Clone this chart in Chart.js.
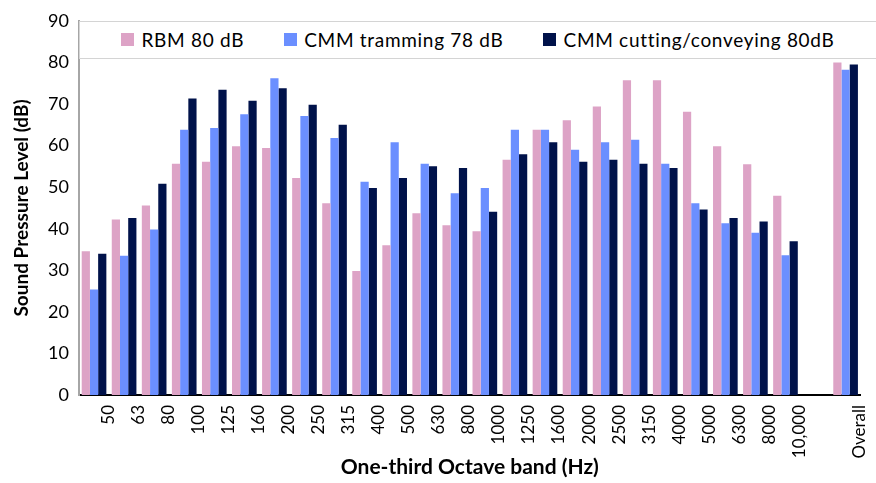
<!DOCTYPE html>
<html>
<head>
<meta charset="utf-8">
<script src="https://cdn.jsdelivr.net/npm/chart.js@4.4.1/dist/chart.umd.min.js"></script>
<style>
  html, body { margin: 0; padding: 0; background: #fff; }
  #wrap { position: relative; width: 876px; height: 483px; overflow: hidden; }
  #legend {
    position: absolute; box-sizing: border-box; background: #fff;
    border: 1px solid #d4d4d4; border-right: none;
    display: flex; justify-content: center; align-items: center; gap: 40px;
    font-family: Lato, sans-serif; font-size: 19px; letter-spacing: 0.7px; color: #000;
  }
  #legend .item { display: flex; align-items: center; white-space: nowrap; }
  #legend .sw { width: 13px; height: 13px; margin-right: 7px; }
</style>
</head>
<body>
<div id="wrap">
  <canvas id="c" width="876" height="483"></canvas>
  <div id="legend"></div>
</div>
<script>
// ---- data ----
const bands = ['50','63','80','100','125','160','200','250','315','400','500','630','800','1000','1250','1600','2000','2500','3150','4000','5000','6300','8000','10,000','','Overall'];
const rbm80 = [34.6, 42.2, 45.6, 55.6, 56.1, 59.8, 59.4, 52.2, 46.1, 29.8, 36.0, 43.7, 40.8, 39.4, 56.6, 63.8, 66.1, 69.4, 75.7, 75.7, 68.1, 59.8, 55.5, 47.9, null, 80.0];
const cmmTramming78 = [25.4, 33.5, 39.8, 63.8, 64.2, 67.5, 76.2, 67.1, 61.8, 51.3, 60.8, 55.6, 48.5, 49.8, 63.8, 63.8, 59.0, 60.8, 61.4, 55.6, 46.1, 41.3, 39.0, 33.6, null, 78.2];
const cmmCutting80 = [34.0, 42.6, 50.8, 71.3, 73.4, 70.8, 73.8, 69.8, 65.0, 49.8, 52.2, 55.0, 54.6, 44.1, 57.9, 60.8, 56.1, 56.6, 55.6, 54.6, 44.6, 42.6, 41.7, 37.0, null, 79.5];
const seriesNames = ['RBM 80 dB', 'CMM tramming 78 dB', 'CMM cutting/conveying 80dB'];
const yTicks = [0, 10, 20, 30, 40, 50, 60, 70, 80, 90];
const xTitle = 'One-third Octave band (Hz)';
const yTitle = 'Sound Pressure Level (dB)';

const colors = ['#DDA3C6', '#6B8FFF', '#00124A'];

const htmlLegend = {
  id: 'htmlLegend',
  afterUpdate(chart) {
    const el = document.getElementById('legend');
    const a = chart.chartArea;
    el.style.left = a.left + 'px';
    el.style.top = a.top + 'px';
    el.style.width = (876 - a.left) + 'px';
    el.style.height = '38px';
    el.innerHTML = '';
    chart.data.datasets.forEach(ds => {
      const it = document.createElement('div'); it.className = 'item';
      const sw = document.createElement('span'); sw.className = 'sw'; sw.style.background = ds.backgroundColor;
      const tx = document.createElement('span'); tx.textContent = ds.label;
      it.appendChild(sw); it.appendChild(tx); el.appendChild(it);
    });
  }
};

const lastLabelFit = {
  id: 'lastLabelFit',
  beforeDraw(chart) {
    const sx = chart.scales.x;
    const items = sx.getLabelItems();
    const last = items[items.length - 1];
    if (last && last.options && last.options.translation) {
      last.options.translation[0] = Math.min(last.options.translation[0], chart.width - 9);
    }
  }
};

new Chart(document.getElementById('c'), {
  type: 'bar',
  data: {
    labels: bands,
    datasets: [
      { label: seriesNames[0], data: rbm80, backgroundColor: colors[0] },
      { label: seriesNames[1], data: cmmTramming78, backgroundColor: colors[1] },
      { label: seriesNames[2], data: cmmCutting80, backgroundColor: colors[2] }
    ]
  },
  options: {
    responsive: false,
    devicePixelRatio: 1,
    animation: false,
    layout: { autoPadding: false, padding: { top: 20, right: 0, bottom: 0, left: 0 } },
    datasets: { bar: { categoryPercentage: 0.82, barPercentage: 1.0 } },
    plugins: { legend: { display: false }, tooltip: { enabled: false } },
    scales: {
      x: {
        grid: { display: false, drawTicks: false },
        border: { display: true, color: '#000', width: 2 },
        ticks: {
          autoSkip: false, minRotation: 90, maxRotation: 90, padding: 10, labelOffset: 14,
          color: '#000', font: { family: 'Lato', size: 17 }
        },
        title: { display: true, text: xTitle, color: '#000', font: { family: 'Lato', size: 21, weight: 'bold' }, padding: { top: 0, bottom: 3 } },
        afterFit(s) { s.height = 88; }
      },
      y: {
        min: 0, max: 90,
        afterBuildTicks(s) { s.ticks = yTicks.map(v => ({ value: v })); },
        grid: { display: false, drawTicks: false },
        border: { display: true, color: '#a6a6a6', width: 2 },
        ticks: { padding: 10, color: '#000', font: { family: 'Lato', size: 18 } },
        title: { display: true, text: yTitle, color: '#000', font: { family: 'Lato', size: 19, weight: 'bold' }, padding: { top: 10, bottom: 0 } },
        afterFit(s) { s.width = 79; }
      }
    }
  },
  plugins: [htmlLegend, lastLabelFit]
});
</script>
</body>
</html>
